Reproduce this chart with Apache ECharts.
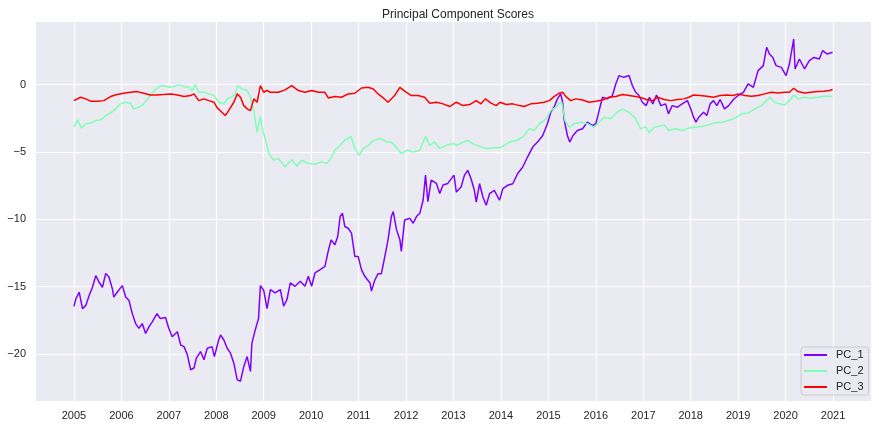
<!DOCTYPE html>
<html>
<head>
<meta charset="utf-8">
<title>Principal Component Scores</title>
<script src="https://cdn.jsdelivr.net/npm/echarts@6/dist/echarts.min.js"></script>
<style>
  html, body { margin: 0; padding: 0; background: #ffffff; }
  #chart { width: 879px; height: 428px; }
</style>
</head>
<body>
<div id="chart"></div>
<script>
// series names and colours (matplotlib "rainbow" colormap)
const seriesNames = ['PC_1', 'PC_2', 'PC_3'];
const seriesColors = ['#8000ff', '#80ffb4', '#ff0000'];

// tick positions
const yearTicks = [2005, 2006, 2007, 2008, 2009, 2010, 2011, 2012, 2013,
                   2014, 2015, 2016, 2017, 2018, 2019, 2020, 2021];
const scoreTicks = [-20, -15, -10, -5, 0];

// [year, score]
const pc1 = [
  [2005.00,-16.47],[2005.04,-15.91],[2005.11,-15.42],[2005.18,-16.64],[2005.25,-16.40],
  [2005.32,-15.66],[2005.39,-15.05],[2005.46,-14.19],[2005.53,-14.68],[2005.60,-15.05],
  [2005.67,-14.02],[2005.74,-14.31],[2005.81,-15.17],[2005.84,-15.78],[2005.91,-15.42],
  [2006.02,-14.93],[2006.09,-15.78],[2006.16,-16.03],[2006.23,-17.01],[2006.30,-17.75],
  [2006.37,-18.11],[2006.44,-17.75],[2006.51,-18.48],[2006.58,-17.99],[2006.65,-17.62],
  [2006.75,-17.01],[2006.82,-17.38],[2006.93,-17.30],[2007.00,-18.11],[2007.07,-18.73],
  [2007.18,-18.36],[2007.25,-19.34],[2007.32,-19.46],[2007.39,-20.07],[2007.46,-21.18],
  [2007.53,-21.05],[2007.58,-20.32],[2007.67,-19.83],[2007.74,-20.44],[2007.81,-19.58],
  [2007.91,-19.46],[2007.96,-20.20],[2008.05,-18.97],[2008.09,-18.60],[2008.16,-18.97],
  [2008.23,-19.58],[2008.30,-19.95],[2008.37,-20.69],[2008.44,-21.91],[2008.51,-22.03],
  [2008.58,-20.93],[2008.65,-20.20],[2008.72,-21.30],[2008.75,-19.22],[2008.82,-18.24],
  [2008.89,-17.38],[2008.93,-14.93],[2009.00,-15.29],[2009.07,-16.64],[2009.14,-15.22],
  [2009.24,-15.47],[2009.35,-15.22],[2009.42,-16.45],[2009.49,-15.96],[2009.56,-14.73],
  [2009.66,-14.98],[2009.77,-14.61],[2009.87,-14.98],[2009.94,-14.24],[2010.01,-14.98],
  [2010.08,-13.99],[2010.19,-13.74],[2010.29,-13.50],[2010.35,-12.51],[2010.42,-11.53],
  [2010.50,-11.90],[2010.56,-11.28],[2010.61,-9.80],[2010.66,-9.56],[2010.71,-10.54],
  [2010.78,-10.67],[2010.85,-11.03],[2010.92,-12.76],[2010.99,-12.76],[2011.06,-13.74],
  [2011.13,-14.24],[2011.24,-14.73],[2011.27,-15.34],[2011.34,-14.53],[2011.41,-14.04],
  [2011.48,-14.04],[2011.55,-12.81],[2011.62,-11.53],[2011.69,-9.80],[2011.73,-9.43],
  [2011.80,-10.79],[2011.87,-11.53],[2011.90,-12.39],[2011.97,-10.05],[2012.08,-9.93],
  [2012.15,-10.30],[2012.22,-9.80],[2012.29,-9.56],[2012.36,-8.57],[2012.41,-6.72],
  [2012.46,-8.69],[2012.53,-7.09],[2012.64,-7.34],[2012.71,-8.08],[2012.78,-7.46],
  [2012.88,-7.34],[2013.01,-6.72],[2013.06,-7.98],[2013.16,-7.60],[2013.23,-6.74],
  [2013.30,-6.37],[2013.37,-6.99],[2013.44,-7.85],[2013.48,-8.72],[2013.55,-7.36],
  [2013.62,-8.35],[2013.69,-8.96],[2013.76,-8.10],[2013.86,-7.85],[2013.97,-8.59],
  [2014.04,-7.73],[2014.14,-7.48],[2014.25,-7.36],[2014.35,-6.62],[2014.46,-6.12],
  [2014.56,-5.38],[2014.67,-4.64],[2014.77,-4.27],[2014.88,-3.78],[2014.98,-2.91],
  [2015.05,-2.05],[2015.12,-1.68],[2015.19,-1.06],[2015.26,-0.69],[2015.30,-1.31],
  [2015.33,-2.54],[2015.40,-3.78],[2015.45,-4.27],[2015.52,-3.78],[2015.61,-3.41],
  [2015.72,-3.28],[2015.82,-2.79],[2015.93,-3.04],[2016.00,-2.91],[2016.07,-1.93],
  [2016.14,-0.94],[2016.24,-1.06],[2016.35,-0.81],[2016.42,0.05],[2016.49,0.67],
  [2016.59,0.54],[2016.70,0.67],[2016.77,-0.07],[2016.84,-0.57],[2016.91,-0.81],
  [2016.98,-1.31],[2017.06,-1.56],[2017.13,-0.94],[2017.20,-1.43],[2017.28,-0.77],
  [2017.37,-1.56],[2017.47,-1.43],[2017.53,-2.17],[2017.61,-1.56],[2017.72,-1.68],
  [2017.82,-1.43],[2017.93,-1.19],[2018.00,-1.80],[2018.06,-2.42],[2018.11,-2.79],
  [2018.17,-2.42],[2018.27,-2.05],[2018.34,-2.30],[2018.41,-1.43],[2018.48,-1.19],
  [2018.55,-1.56],[2018.62,-1.11],[2018.71,-1.80],[2018.80,-1.56],[2018.90,-1.11],
  [2019.00,-0.81],[2019.11,-0.57],[2019.21,0.05],[2019.32,-0.20],[2019.42,1.04],
  [2019.53,1.41],[2019.60,2.77],[2019.66,2.27],[2019.73,2.02],[2019.80,1.41],
  [2019.91,1.28],[2020.01,0.67],[2020.08,1.53],[2020.17,3.38],[2020.20,1.16],
  [2020.29,1.90],[2020.40,1.16],[2020.50,1.78],[2020.60,2.02],[2020.71,1.90],
  [2020.78,2.52],[2020.88,2.27],[2020.99,2.40]
];

const pc2 = [
  [2005.00,-3.16],[2005.08,-2.62],[2005.15,-3.23],[2005.25,-2.91],[2005.35,-2.86],
  [2005.46,-2.67],[2005.56,-2.62],[2005.67,-2.30],[2005.77,-2.12],[2005.88,-1.80],
  [2005.98,-1.43],[2006.09,-1.31],[2006.19,-1.38],[2006.26,-1.80],[2006.37,-1.68],
  [2006.47,-1.43],[2006.58,-0.94],[2006.68,-0.49],[2006.79,-0.15],[2006.89,-0.07],
  [2007.00,-0.20],[2007.11,-0.15],[2007.21,0.00],[2007.32,-0.15],[2007.42,-0.20],
  [2007.49,-0.44],[2007.56,0.00],[2007.63,-0.57],[2007.74,-0.57],[2007.84,-0.69],
  [2007.95,-0.81],[2008.05,-1.31],[2008.16,-1.43],[2008.23,-1.06],[2008.33,-0.89],
  [2008.40,-0.69],[2008.45,-0.07],[2008.54,-0.32],[2008.65,-0.44],[2008.72,-0.94],
  [2008.79,-1.93],[2008.86,-3.53],[2008.93,-2.37],[2008.97,-3.28],[2009.04,-4.14],
  [2009.11,-5.12],[2009.21,-5.62],[2009.31,-5.49],[2009.45,-6.11],[2009.59,-5.57],
  [2009.70,-6.06],[2009.80,-5.62],[2009.94,-5.86],[2010.08,-5.91],[2010.22,-5.74],
  [2010.33,-5.86],[2010.40,-5.57],[2010.50,-4.88],[2010.61,-4.51],[2010.71,-4.14],
  [2010.84,-3.84],[2010.92,-4.75],[2011.01,-5.25],[2011.10,-4.75],[2011.20,-4.51],
  [2011.34,-4.09],[2011.48,-4.01],[2011.59,-4.26],[2011.69,-4.26],[2011.80,-4.68],
  [2011.90,-5.12],[2012.01,-4.88],[2012.15,-5.00],[2012.29,-4.88],[2012.41,-3.84],
  [2012.50,-4.51],[2012.60,-4.26],[2012.71,-4.75],[2012.85,-4.51],[2013.01,-4.38],
  [2013.06,-4.52],[2013.20,-4.27],[2013.30,-4.15],[2013.41,-4.40],[2013.55,-4.59],
  [2013.69,-4.77],[2013.83,-4.69],[2013.97,-4.69],[2014.07,-4.52],[2014.18,-4.27],
  [2014.32,-4.15],[2014.46,-3.90],[2014.60,-3.28],[2014.70,-3.41],[2014.81,-2.91],
  [2014.95,-2.54],[2015.05,-1.93],[2015.16,-1.68],[2015.23,-1.38],[2015.28,-1.31],
  [2015.35,-2.67],[2015.44,-3.16],[2015.54,-2.91],[2015.68,-2.79],[2015.82,-2.91],
  [2015.96,-3.16],[2016.07,-2.79],[2016.17,-2.42],[2016.31,-2.54],[2016.45,-2.05],
  [2016.56,-1.80],[2016.70,-2.05],[2016.84,-2.54],[2016.94,-3.28],[2017.05,-3.16],
  [2017.13,-3.58],[2017.23,-3.16],[2017.33,-3.09],[2017.44,-2.99],[2017.54,-3.41],
  [2017.68,-3.28],[2017.82,-3.41],[2017.96,-3.23],[2018.10,-3.16],[2018.24,-3.09],
  [2018.38,-2.99],[2018.52,-2.84],[2018.66,-2.79],[2018.80,-2.67],[2018.93,-2.49],
  [2019.07,-2.17],[2019.21,-2.10],[2019.35,-1.80],[2019.49,-1.56],[2019.60,-1.19],
  [2019.66,-0.94],[2019.77,-1.31],[2019.87,-1.43],[2019.98,-1.51],[2020.08,-1.19],
  [2020.17,-0.77],[2020.26,-1.06],[2020.40,-0.94],[2020.53,-1.01],[2020.67,-0.94],
  [2020.81,-0.86],[2020.99,-0.86]
];

const pc3 = [
  [2005.00,-1.19],[2005.14,-0.94],[2005.25,-1.06],[2005.35,-1.23],[2005.49,-1.23],
  [2005.63,-1.19],[2005.77,-0.89],[2005.91,-0.74],[2006.05,-0.64],[2006.19,-0.57],
  [2006.33,-0.52],[2006.47,-0.64],[2006.61,-0.77],[2006.75,-0.77],[2006.89,-0.74],
  [2007.04,-0.69],[2007.18,-0.77],[2007.32,-0.89],[2007.46,-0.81],[2007.53,-0.69],
  [2007.63,-1.19],[2007.74,-1.06],[2007.84,-1.19],[2007.95,-1.31],[2008.02,-1.73],
  [2008.12,-2.05],[2008.19,-2.30],[2008.26,-1.93],[2008.37,-1.31],[2008.44,-0.69],
  [2008.51,-0.94],[2008.58,-1.56],[2008.65,-1.80],[2008.72,-1.93],[2008.79,-1.06],
  [2008.86,-1.31],[2008.93,-0.07],[2009.00,-0.57],[2009.07,-0.44],[2009.14,-0.57],
  [2009.18,-0.57],[2009.31,-0.57],[2009.45,-0.39],[2009.59,-0.07],[2009.73,-0.44],
  [2009.87,-0.57],[2010.01,-0.44],[2010.15,-0.57],[2010.29,-0.57],[2010.36,-0.99],
  [2010.50,-0.89],[2010.64,-0.94],[2010.78,-0.69],[2010.92,-0.64],[2011.06,-0.25],
  [2011.20,-0.20],[2011.31,-0.32],[2011.41,-0.69],[2011.52,-0.99],[2011.62,-1.31],
  [2011.76,-0.81],[2011.87,-0.20],[2011.97,-0.49],[2012.11,-0.81],[2012.25,-0.81],
  [2012.39,-0.94],[2012.50,-1.38],[2012.64,-1.31],[2012.78,-1.43],[2012.92,-1.63],
  [2013.06,-1.31],[2013.20,-1.56],[2013.34,-1.48],[2013.48,-1.19],[2013.58,-1.43],
  [2013.67,-1.06],[2013.79,-1.38],[2013.90,-1.56],[2013.98,-1.31],[2014.11,-1.48],
  [2014.25,-1.43],[2014.39,-1.56],[2014.49,-1.63],[2014.63,-1.43],[2014.77,-1.38],
  [2014.91,-1.31],[2015.02,-1.19],[2015.12,-0.89],[2015.23,-0.64],[2015.30,-0.57],
  [2015.37,-0.89],[2015.47,-1.19],[2015.58,-1.06],[2015.72,-1.14],[2015.86,-1.31],
  [2016.00,-1.23],[2016.14,-1.14],[2016.28,-0.94],[2016.42,-0.89],[2016.56,-0.74],
  [2016.70,-0.81],[2016.84,-0.89],[2016.98,-0.99],[2017.06,-1.11],[2017.20,-1.19],
  [2017.30,-0.94],[2017.44,-1.11],[2017.58,-1.19],[2017.72,-1.11],[2017.86,-1.06],
  [2017.96,-0.94],[2018.06,-0.77],[2018.20,-0.81],[2018.34,-0.86],[2018.48,-0.94],
  [2018.62,-0.81],[2018.76,-0.77],[2018.90,-0.81],[2019.00,-0.69],[2019.14,-0.81],
  [2019.28,-0.86],[2019.42,-0.81],[2019.56,-0.69],[2019.70,-0.57],[2019.84,-0.62],
  [2019.98,-0.57],[2020.08,-0.57],[2020.17,-0.27],[2020.26,-0.52],[2020.40,-0.62],
  [2020.53,-0.57],[2020.67,-0.52],[2020.81,-0.49],[2020.92,-0.44],[2020.99,-0.37]
];

const seriesData = [pc1, pc2, pc3];
const textColor = '#262626';
const fontFamily = '"Liberation Sans", Arial, sans-serif';

var myChart = echarts.init(document.getElementById('chart'), null, { renderer: 'canvas' });

var option = {
    animation: false,
    backgroundColor: '#ffffff',
    title: {
        text: 'Principal Component Scores',
        left: 453,
        textAlign: 'center',
        top: 4,
        textStyle: { fontSize: 12, fontWeight: 'normal', color: textColor, fontFamily: fontFamily }
    },
    grid: {
        left: 36,
        right: 8,
        top: 22,
        bottom: 27,
        show: true,
        backgroundColor: '#eaeaf2',
        borderWidth: 0
    },
    legend: {
        orient: 'vertical',
        left: 801,
        top: 347,
        icon: 'rect',
        itemWidth: 23,
        itemHeight: 2,
        itemGap: 4,
        padding: [2, 5, 2, 3],
        backgroundColor: 'rgba(234,234,242,0.8)',
        borderColor: '#cccccc',
        borderWidth: 1,
        borderRadius: 3,
        textStyle: { fontSize: 11, color: textColor, fontFamily: fontFamily, lineHeight: 12, padding: [0, 0, 0, 4] },
        data: seriesNames
    },
    xAxis: {
        type: 'value',
        min: 2004.2,
        max: 2021.8,
        axisLine: { show: false },
        axisTick: { show: false, customValues: yearTicks },
        axisLabel: {
            customValues: yearTicks,
            margin: 9,
            fontSize: 11,
            color: textColor,
            fontFamily: fontFamily,
            formatter: v => String(Math.round(v))
        },
        splitLine: { show: true, lineStyle: { color: '#ffffff', width: 1.2 } }
    },
    yAxis: {
        type: 'value',
        min: -23.5,
        max: 4.65,
        axisLine: { show: false },
        axisTick: { show: false, customValues: scoreTicks },
        axisLabel: {
            customValues: scoreTicks,
            margin: 10,
            fontSize: 11,
            color: textColor,
            fontFamily: fontFamily,
            formatter: v => (v < 0 ? '\u2212' + Math.abs(v) : String(v))
        },
        splitLine: { show: true, lineStyle: { color: '#ffffff', width: 1.2 } }
    },
    series: seriesNames.map((name, i) => ({
        name: name,
        type: 'line',
        data: seriesData[i],
        showSymbol: false,
        symbol: 'none',
        color: seriesColors[i],
        lineStyle: { width: 1.5, color: seriesColors[i] },
        z: 2 + i
    }))
};

myChart.setOption(option);

window.addEventListener('resize', function () {
    myChart.resize();
});
</script>
</body>
</html>
